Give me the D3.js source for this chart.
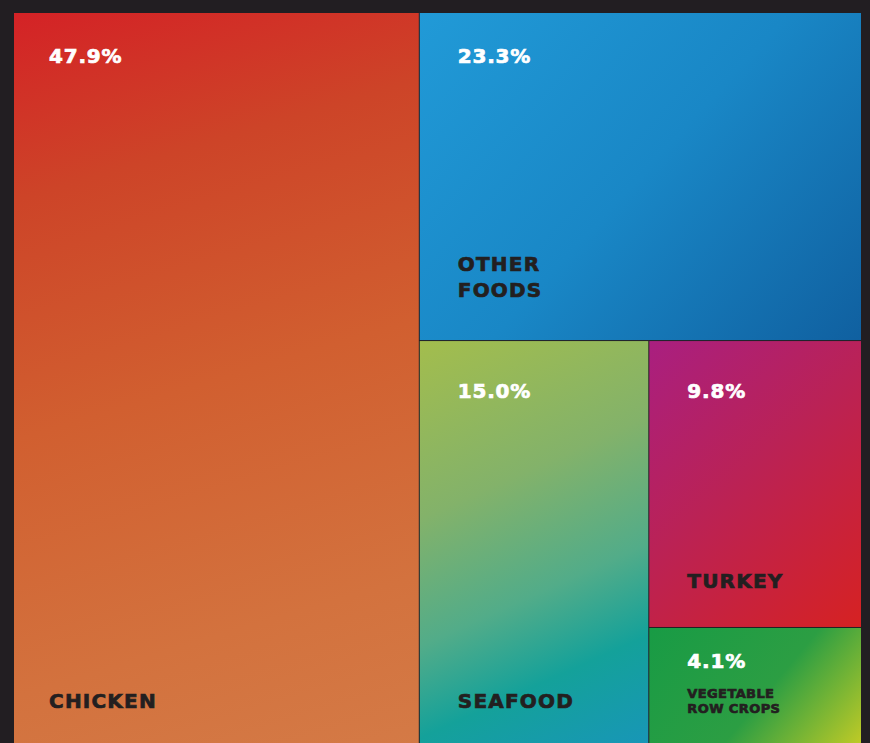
<!DOCTYPE html>
<html>
<head>
<meta charset="utf-8">
<script src="https://cdn.jsdelivr.net/npm/d3@7"></script>
<style>
  body { margin: 0; background: #221e22; }
  svg { display: block; }
  .pct { fill: #fff; stroke: #fff; stroke-width: 0.7; font-family: "DejaVu Sans", sans-serif; font-weight: bold; }
  .name { fill: #231f20; stroke: #231f20; stroke-width: 0.7; font-family: "DejaVu Sans", sans-serif; font-weight: bold; }
</style>
</head>
<body>
<svg width="870" height="743"></svg>
<script>
const categories = ['CHICKEN', 'OTHER FOODS', 'SEAFOOD', 'TURKEY', 'VEGETABLE ROW CROPS'];
const shares = [47.9, 23.3, 15.0, 9.8, 4.1];
const pctLabels = ['47.9%', '23.3%', '15.0%', '9.8%', '4.1%'];
const nameLines = [['CHICKEN'], ['OTHER', 'FOODS'], ['SEAFOOD'], ['TURKEY'], ['VEGETABLE', 'ROW CROPS']];

// gradient stops (offset, colour), from top-left towards bottom-right
const gradients = [
  [[0, '#d42226'], [0.22, '#cd4428'], [0.5, '#d15f30'], [0.8, '#d3723e'], [1, '#d47a46']],
  [[0, '#219ad7'], [0.5, '#1987c6'], [1, '#1060a0']],
  [[0, '#a3bd4d'], [0.35, '#83b26a'], [0.6, '#52ac89'], [0.78, '#14a19a'], [1, '#1896b8']],
  [[0, '#a91f80'], [0.45, '#ba2256'], [1, '#d62222']],
  [[0, '#189b45'], [0.55, '#2c9e43'], [1, '#c2cb26']]
];
// horizontal share of the gradient vector (vertical share is 1)
const gradTilt = [0.3, 1.1, 0.45, 0.9, 1.2];

const svg = d3.select('svg');
const width = +svg.attr('width');
const height = +svg.attr('height');
const margin = { top: 13, right: 9, bottom: -4, left: 14 };

// nested: chicken | (other foods / (seafood | (turkey / veg)))
const tree = {
  children: [
    { idx: 0 },
    { children: [
      { idx: 1 },
      { children: [
        { idx: 2 },
        { children: [{ idx: 3 }, { idx: 4 }] }
      ] }
    ] }
  ]
};

const root = d3.hierarchy(tree)
  .sum(d => d.idx !== undefined ? shares[d.idx] : 0);

d3.treemap()
  .size([width - margin.left - margin.right, height - margin.top - margin.bottom])
  .paddingInner(1)
  .tile((node, x0, y0, x1, y1) => {
    if (node.depth % 2 === 0) d3.treemapDice(node, x0, y0, x1, y1);
    else d3.treemapSlice(node, x0, y0, x1, y1);
  })(root);

const leaves = root.leaves();

const defs = svg.append('defs');
leaves.forEach(d => {
  const i = d.data.idx;
  const w = d.x1 - d.x0, h = d.y1 - d.y0;
  // vector (t*k, k) that spans the box corner to corner
  const t = gradTilt[i];
  const k = (t * w + h) / (t * t + 1);
  const lg = defs.append('linearGradient')
    .attr('id', 'grad' + i)
    .attr('gradientUnits', 'userSpaceOnUse')
    .attr('x1', 0).attr('y1', 0)
    .attr('x2', t * k).attr('y2', k);
  gradients[i].forEach(s => {
    lg.append('stop')
      .attr('offset', s[0])
      .attr('stop-color', s[1]);
  });
});

const g = svg.append('g')
  .attr('transform', `translate(${margin.left},${margin.top})`);

const cell = g.selectAll('g.cell').data(leaves)
  .enter().append('g')
    .attr('class', 'cell')
    .attr('transform', d => `translate(${d.x0},${d.y0})`);

cell.append('rect')
  .attr('width', d => d.x1 - d.x0)
  .attr('height', d => d.y1 - d.y0)
  .attr('fill', d => `url(#grad${d.data.idx})`);

const small = d => d.data.idx === 4;
const padX = d => d.data.idx === 0 ? 35 : 38;

cell.append('text')
  .attr('class', 'pct')
  .attr('x', padX)
  .attr('y', d => small(d) ? 40 : (d.data.idx >= 2 ? 57 : 50))
  .attr('font-size', 20)
  .attr('letter-spacing', 0.8)
  .text(d => pctLabels[d.data.idx]);

cell.append('text')
  .attr('class', 'name')
  .attr('font-size', d => small(d) ? 13 : 20)
  .attr('stroke-width', d => small(d) ? 0.5 : 0.7)
  .attr('letter-spacing', d => small(d) ? 0.4 : 1.2)
  .each(function (d) {
    const h = d.y1 - d.y0;
    const lines = nameLines[d.data.idx];
    const t = d3.select(this);
    lines.forEach((l, j) => {
      let y;
      if (small(d)) y = 70 + j * 15;
      else if (lines.length > 1) y = h - 43 - (lines.length - 1 - j) * 26;
      else y = h - 39;
      t.append('tspan')
        .attr('x', padX(d))
        .attr('y', y)
        .text(l);
    });
  });
</script>
</body>
</html>
